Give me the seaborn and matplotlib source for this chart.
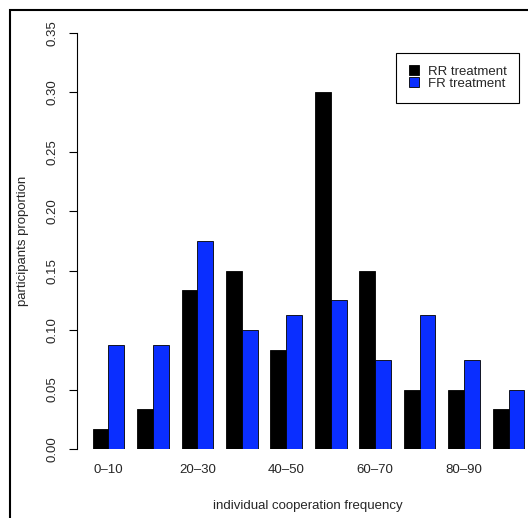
import pandas as pd
import matplotlib.pyplot as plt
import seaborn as sns
from matplotlib.lines import Line2D
from matplotlib.patches import Rectangle

# bins of individual cooperation frequency
bins = ["0–10", "10–20", "20–30", "30–40", "40–50",
        "50–60", "60–70", "70–80", "80–90", "90–100"]
shown_labels = ["0–10", "", "20–30", "", "40–50", "", "60–70", "", "80–90", ""]
# proportions of participants per bin
rr_prop = [0.0167, 0.0333, 0.1333, 0.15, 0.0833, 0.30, 0.15, 0.05, 0.05, 0.0333]
fr_prop = [0.0875, 0.0875, 0.175, 0.10, 0.1125, 0.125, 0.075, 0.1125, 0.075, 0.05]
treatments = ["RR treatment", "FR treatment"]
colors = ["#000000", "#0a2eff"]
y_ticks = [0.00, 0.05, 0.10, 0.15, 0.20, 0.25, 0.30, 0.35]

df = pd.DataFrame({
    "bin": bins * 2,
    "prop": rr_prop + fr_prop,
    "treatment": [treatments[0]] * len(bins) + [treatments[1]] * len(bins),
})

sns.set_style("white")
plt.rcParams["font.family"] = ["Liberation Sans", "DejaVu Sans"]

fig = plt.figure(figsize=(5.28, 5.18), dpi=100)
ax = fig.add_axes([77 / 528, 69 / 518, 462 / 528, 416.3 / 518])

sns.barplot(data=df, x="bin", y="prop", hue="treatment", order=bins,
            hue_order=treatments, palette=colors, width=0.71,
            edgecolor="black", linewidth=0.6, saturation=1, ax=ax)

ax.set_xlim(-0.705, 9.682)
ax.set_ylim(0, 0.35)
ax.set_yticks(y_ticks)
ax.set_yticklabels([f"{t:.2f}" for t in y_ticks])
ax.set_xticks(range(len(bins)))
ax.set_xticklabels(shown_labels)

for side in ["top", "right", "bottom"]:
    ax.spines[side].set_visible(False)
ax.spines["left"].set_color("black")
ax.spines["left"].set_linewidth(0.8)

ax.tick_params(axis="y", direction="out", length=6, width=0.8, color="black",
               left=True, labelsize=9.5, pad=7, labelrotation=90)
for lab in ax.get_yticklabels():
    lab.set_va("center")
ax.tick_params(axis="x", length=0, labelsize=9.5, pad=11)

ax.set_ylabel("participants proportion", fontsize=9.5)
ax.yaxis.set_label_coords(-0.104, 0.5)
ax.set_xlabel("individual cooperation frequency", fontsize=9.5, labelpad=17)

handles = [Line2D([], [], marker="s", linestyle="none", markersize=7,
                  markerfacecolor=c, markeredgecolor="black", markeredgewidth=0.6)
           for c in colors]
ax.legend(handles=handles, labels=treatments, loc="upper right",
          bbox_to_anchor=(519 / 528, 1 - 53 / 518), bbox_transform=fig.transFigure,
          fontsize=9.5, frameon=True, fancybox=False, edgecolor="black",
          framealpha=1, borderpad=0.95, handlelength=0.73, handletextpad=0.7,
          labelspacing=0.0, borderaxespad=0)
ax.get_legend().get_frame().set_linewidth(0.8)

fig.patches.append(Rectangle((10 / 528, -0.5), 2, 1.5 - 10 / 518, fill=False,
                             edgecolor="black", linewidth=1.5,
                             transform=fig.transFigure))

fig.savefig("out.png", dpi=100)
